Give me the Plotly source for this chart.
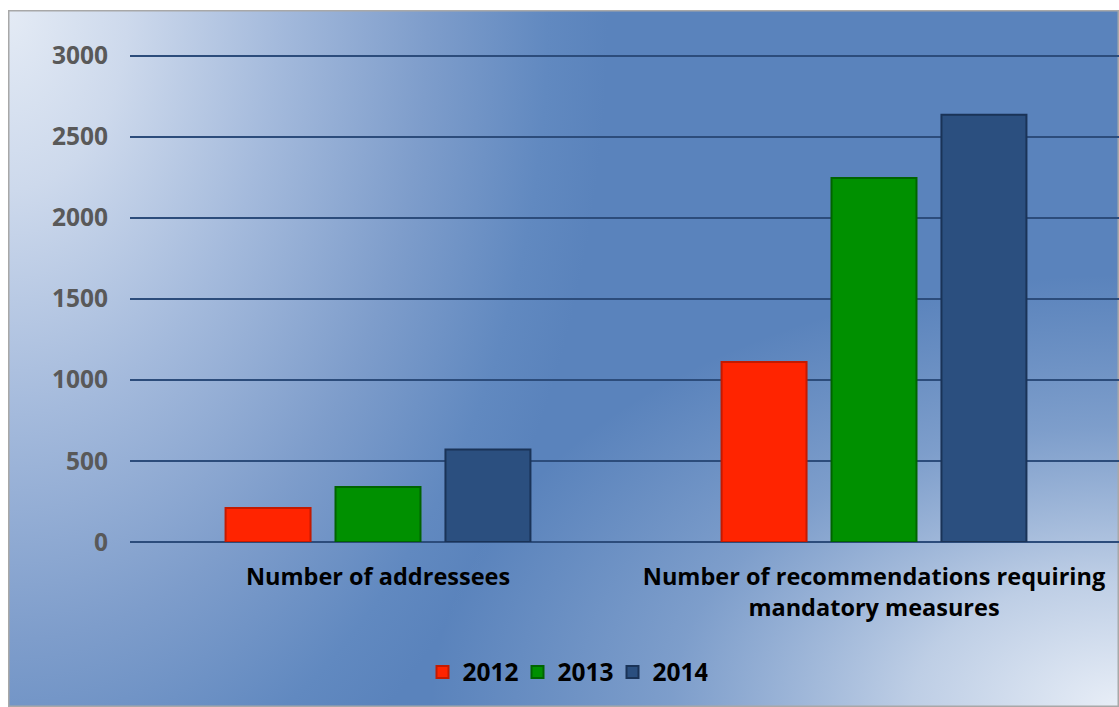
import plotly.graph_objects as go
import urllib.parse

categories = ["Number of addressees", "Number of recommendations requiring<br>mandatory measures"]
years = ["2012", "2013", "2014"]
values_2012 = [210, 1110]
values_2013 = [340, 2245]
values_2014 = [570, 2635]
y_ticks = [0, 500, 1000, 1500, 2000, 2500, 3000]

series = [values_2012, values_2013, values_2014]
fills = ["#ff2400", "#009000", "#2b4f7f"]
edges = ["#c41a00", "#006400", "#1a3357"]

W, H = 1119, 707
ml, mr, mt, mb = 130, 0, 54, 165
pw, ph = W - ml - mr, H - mt - mb
BW, BH = W - 8, H - 10

svg = f"""<svg xmlns='http://www.w3.org/2000/svg' width='{BW}' height='{BH}' viewBox='0 0 {BW} {BH}' preserveAspectRatio='none'>
<defs>
<radialGradient id='g' gradientUnits='userSpaceOnUse' cx='0' cy='0' r='600' gradientTransform='scale(1,1.5)'>
<stop offset='0' stop-color='#e4ebf5'/>
<stop offset='0.2' stop-color='#cdd9ec'/>
<stop offset='0.45' stop-color='#a4badc'/>
<stop offset='0.7' stop-color='#7e9dcb'/>
<stop offset='0.9' stop-color='#6189c0'/>
<stop offset='1' stop-color='#5a83bc'/>
</radialGradient>
<radialGradient id='r' cx='1' cy='1' r='0.62'>
<stop offset='0' stop-color='#e8eef7' stop-opacity='1'/>
<stop offset='0.3' stop-color='#dfe7f3' stop-opacity='0.75'/>
<stop offset='0.65' stop-color='#d0dcee' stop-opacity='0.3'/>
<stop offset='1' stop-color='#c8d6ea' stop-opacity='0'/>
</radialGradient>
</defs>
<rect x='0' y='0' width='{BW}' height='{BH}' fill='#5a83bc'/>
<rect x='0' y='0' width='{BW}' height='{BH}' fill='url(#g)'/>
<rect x='0' y='0' width='{BW}' height='{BH}' fill='url(#r)'/>
<rect x='0.75' y='0.75' width='{BW-1.5}' height='{BH-1.5}' fill='none' stroke='#a8a8a8' stroke-width='1.5'/>
</svg>"""
src = "data:image/svg+xml;charset=utf-8," + urllib.parse.quote(svg)

FONT = "'Open Sans', Lato, sans-serif"

fig = go.Figure()
for yr, vals, fc, ec in zip(years, series, fills, edges):
    fig.add_trace(go.Bar(
        name=yr, x=categories, y=vals,
        marker=dict(color=fc, line=dict(color=ec, width=2)),
    ))

fig.update_layout(
    width=W, height=H,
    margin=dict(l=ml, r=mr, t=mt, b=mb),
    paper_bgcolor="white",
    plot_bgcolor="rgba(0,0,0,0)",
    barmode="group",
    bargap=0.335,
    bargroupgap=0.227,
    font=dict(family=FONT, size=22, color="black"),
    showlegend=True,
    legend=dict(
        orientation="h", x=(565 - ml) / pw, xanchor="center",
        y=(H - mb - 672) / ph, yanchor="middle",
        bgcolor="rgba(0,0,0,0)",
        font=dict(family=FONT, size=24.5, color="black", weight="bold"),
        itemwidth=30, traceorder="normal",
        entrywidth=50, entrywidthmode="pixels",
    ),
    images=[dict(
        source=src, xref="paper", yref="paper",
        x=(8 - ml) / pw, y=(H - mb - 10) / ph,
        sizex=BW / pw, sizey=BH / ph,
        xanchor="left", yanchor="top", sizing="stretch", layer="below",
    )],
)

fig.update_xaxes(
    range=[-0.5, -0.5 + pw / 496],
    showgrid=False, showline=False, zeroline=False,
    tickfont=dict(family=FONT, size=23.5, color="black", weight="bold"),
    ticks="outside", ticklen=14, tickcolor="rgba(0,0,0,0)",
)
fig.update_yaxes(
    range=[0, 3010], tickvals=y_ticks,
    showgrid=True, gridcolor="#2c4c7b", gridwidth=2.2,
    zeroline=True, zerolinecolor="#2c4c7b", zerolinewidth=2.2,
    showline=False,
    tickfont=dict(family=FONT, size=24.5, color="#595959", weight="bold"),
    ticks="outside", ticklen=16, tickcolor="rgba(0,0,0,0)",
)

fig.write_html("out.html", post_script="document.body.style.margin='0';",
               config={"displayModeBar": False})
